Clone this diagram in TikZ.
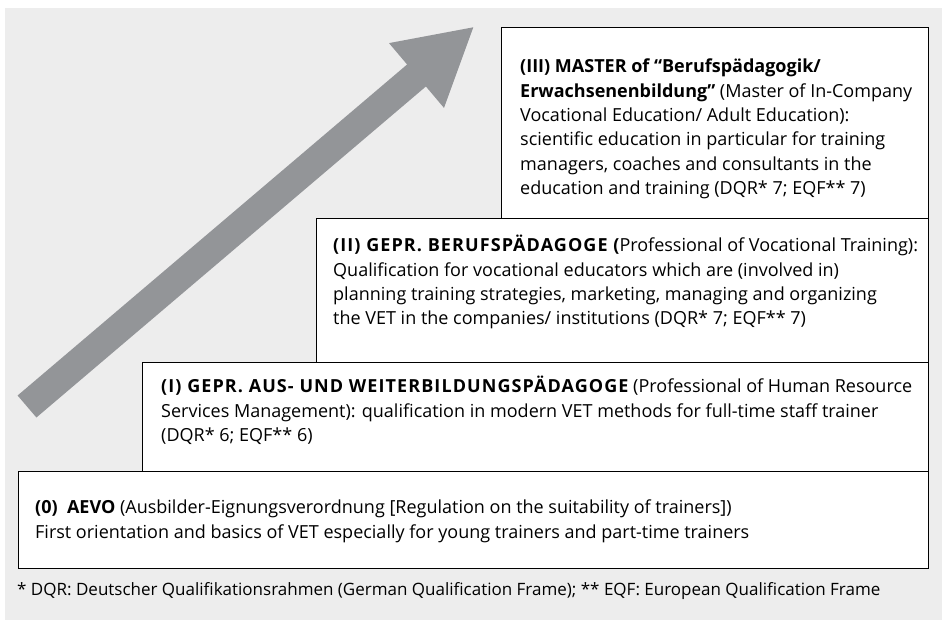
\documentclass[tikz,border=0pt]{standalone}
\usepackage{fontspec}
\setmainfont{Open Sans}
\usetikzlibrary{positioning}

\definecolor{panelgray}{HTML}{EDEDED}
\definecolor{arrowgray}{HTML}{939598}

\newcommand{\lvlhead}[1]{{\bfseries\addfontfeature{LetterSpace=6}#1}}

\tikzset{
    lvlbox/.style={draw=black, fill=white, line width=1pt, inner sep=0pt, anchor=north east},
    lvltext/.style={anchor=north west, align=left, inner sep=0pt, font=\fontsize{18}{24.3}\selectfont},
    notetext/.style={anchor=west, inner sep=0pt, font=\fontsize{17}{20}\selectfont},
}

\begin{document}
\begin{tikzpicture}[x=1pt, y=-1pt]
    \useasboundingbox (0,0) rectangle (942,620);
    \fill[panelgray] (5,8) rectangle (942,620); % grey panel

    % rising arrow
    \coordinate (t1) at (17.6,395.5);
    \coordinate (t2) at (36.4,417.5);
    \coordinate (n1) at (407.1,64.5);
    \coordinate (n2) at (425.9,86.5);
    \coordinate (b1) at (389,43.1);
    \coordinate (b2) at (444,107.9);
    \coordinate (tip) at (473.3,27.3);
    \fill[arrowgray] (t1)--(n1)--(b1)--(tip)--(b2)--(n2)--(t2)--cycle;

    % the four levels, top to bottom
    \node[lvlbox, minimum width=427pt, minimum height=191pt] (master) at (929,27) {};
    \node[lvlbox, minimum width=612pt, minimum height=144pt] (berufs) at (929,218) {};
    \node[lvlbox, minimum width=786pt, minimum height=109pt] (ausweiter) at (929,362) {};
    \node[lvlbox, minimum width=910pt, minimum height=97pt] (aevo) at (929,471) {};

    \node[lvltext] (masterTxt) at (520,59) {%
        \textbf{(III) MASTER of “Berufspädagogik/}\\
        \textbf{Erwachsenenbildung”} (Master of In-Company\\
        Vocational Education/ Adult Education):\\
        scientific education in particular for training\\
        managers, coaches and consultants in the\\
        education and training (DQR* 7; EQF** 7)};
    \node[lvltext] (berufsTxt) at (333,235) {%
        \lvlhead{(II) GEPR. BERUFSPÄDAGOGE (}Professional of Vocational Training):\\
        Qualification for vocational educators which are (involved in)\\
        planning training strategies, marketing, managing and organizing\\
        the VET in the companies/ institutions (DQR* 7; EQF** 7)};
    \node[lvltext] (ausweiterTxt) at (161,376) {%
        \lvlhead{(I) GEPR. AUS- UND WEITERBILDUNGSPÄDAGOGE} (Professional of Human Resource\\
        Services Management): qualification in modern VET methods for full-time staff trainer\\
        (DQR* 6; EQF** 6)};
    \node[lvltext] (aevoTxt) at (35,500) {%
        \textbf{(0)\ \ AEVO} (Ausbilder-Eignungsverordnung [Regulation on the suitability of trainers])\\
        First orientation and basics of VET especially for young trainers and part-time trainers};

    \node[notetext] (footnote) at (17,591) {* DQR: Deutscher Qualifikationsrahmen (German Qualification Frame); ** EQF: European Qualification Frame};
\end{tikzpicture}
\end{document}
